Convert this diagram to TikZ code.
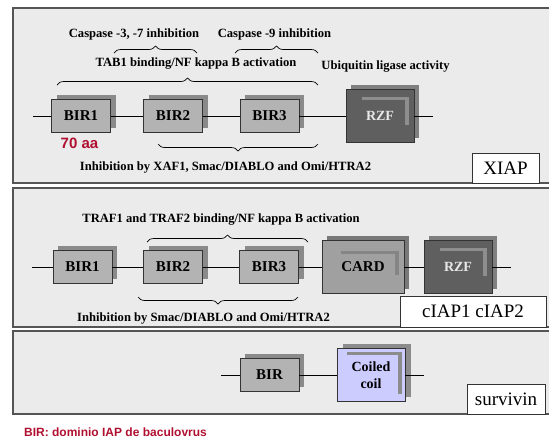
\documentclass[tikz,border=0pt]{standalone}
\usepackage{fontspec}
\setmainfont{Liberation Serif}
\newfontfamily\arialfont{Liberation Sans}
\usetikzlibrary{positioning,shadows,decorations.pathreplacing}
\definecolor{panelfill}{HTML}{EBEBEB}
\definecolor{panelline}{HTML}{555555}
\definecolor{boxline}{HTML}{333333}
\definecolor{birfill}{HTML}{B3B3B3}
\definecolor{birshadow}{HTML}{8A8A8A}
\definecolor{rzffill}{HTML}{5F5F5F}
\definecolor{rzfshadow}{HTML}{7F7F7F}
\definecolor{rzfmark}{HTML}{8E8E8E}
\definecolor{rzftext}{HTML}{E8E8E8}
\definecolor{cardfill}{HTML}{A0A0A0}
\definecolor{cardshadow}{HTML}{787878}
\definecolor{cardmark}{HTML}{858585}
\definecolor{coilfill}{HTML}{CCCCFF}
\definecolor{coilshadow}{HTML}{8C8C8C}
\definecolor{coilmark}{HTML}{8C8C8C}
\definecolor{aared}{HTML}{B01030}

\begin{document}
\begin{tikzpicture}[x=1pt,y=-1pt,
	lmark/.style n args={5}{path picture={\draw[line width=3.5pt,draw=#1] ([xshift=#2,yshift=-#3]path picture bounding box.north west) -| ([xshift=-#4,yshift=#5]path picture bounding box.south east);}}]
			\tikzstyle{panel}=[draw=panelline,fill=panelfill,line width=1.2pt]
			\tikzstyle{dombox}=[draw=boxline,line width=0.8pt,inner sep=0pt,font=\fontsize{15}{17}\selectfont\bfseries]
			\tikzstyle{bir}=[dombox,fill=birfill,minimum width=59pt,minimum height=33pt,general shadow={fill=birshadow,shadow xshift=5pt,shadow yshift=5pt}]
			\tikzstyle{rzf}=[dombox,fill=rzffill,text=rzftext,minimum width=68pt,minimum height=53pt,font=\fontsize{14}{16}\selectfont\bfseries,general shadow={fill=rzfshadow,shadow xshift=5pt,shadow yshift=5pt},lmark={rzfmark}{16pt}{9pt}{7pt}{18pt}]
			\tikzstyle{card}=[dombox,fill=cardfill,minimum width=82pt,minimum height=53pt,general shadow={fill=cardshadow,shadow xshift=5pt,shadow yshift=5pt},lmark={cardmark}{19pt}{12pt}{7pt}{19pt}]
			\tikzstyle{coil}=[dombox,fill=coilfill,minimum width=68pt,minimum height=53pt,align=center,font=\fontsize{14}{17}\selectfont\bfseries,general shadow={fill=coilshadow,shadow xshift=6pt,shadow yshift=5pt},lmark={coilmark}{10pt}{5pt}{5pt}{8pt}]
			\tikzstyle{backbone}=[draw=black,line width=0.8pt]
			\tikzstyle{lbltext}=[font=\fontsize{12.6}{14}\selectfont\bfseries]
			\tikzstyle{namebox}=[draw=boxline,fill=white,line width=0.8pt,inner sep=0pt,font=\fontsize{19}{21}\selectfont]
			\tikzstyle{brace}=[decorate,decoration={brace,amplitude=7pt},line width=0.7pt]
			\tikzstyle{note}=[text=aared]
			\useasboundingbox (0,0) rectangle (549,440);
			\draw[panel] (13,8) rectangle (552,183);
			\draw[panel] (13,188) rectangle (552,327);
			\draw[panel] (13,331) rectangle (552,414);
			\node[bir]      (bir1)     at (81,116)                      {BIR1};
			\node[bir]      (bir2)[right of=bir1,node distance=92pt]    {BIR2};
			\node[bir]      (bir3)[right of=bir2,node distance=96.5pt]  {BIR3};
			\node[rzf]      (rzf1)[right of=bir3,node distance=110.5pt] {RZF};
			\coordinate     (s1) at (33,116);
			\coordinate     (e1) at (433,116);
			\node[bir]      (bir1b)    at (82.5,267)                    {BIR1};
			\node[bir]      (bir2b)[right of=bir1b,node distance=90.5pt] {BIR2};
			\node[bir]      (bir3b)[right of=bir2b,node distance=96pt]   {BIR3};
			\node[card]     (card)[right of=bir3b,node distance=94pt]    {CARD};
			\node[rzf]      (rzf2)[right of=card,node distance=95pt]     {RZF};
			\coordinate     (s2) at (32,267);
			\coordinate     (e2) at (511,267);
			\node[bir]      (birc)     at (269.5,375)                   {BIR};
			\node[coil]     (coil)[right of=birc,node distance=101.5pt]  {Coiled\\coil};
			\coordinate     (s3) at (221,375);
			\coordinate     (e3) at (424,375);
			\path[backbone]
			(s1) edge (bir1)
			(bir1) edge (bir2)
			(bir2) edge (bir3)
			(bir3) edge (rzf1)
			(rzf1) edge (e1)
			(s2) edge (bir1b)
			(bir1b) edge (bir2b)
			(bir2b) edge (bir3b)
			(bir3b) edge (card)
			(card) edge (rzf2)
			(rzf2) edge (e2)
			(s3) edge (birc)
			(birc) edge (coil)
			(coil) edge (e3);
			\node[lbltext]  (cas37)    at (134,34)    {Caspase -3, -7 inhibition};
			\node[lbltext]  (cas9)     at (274.5,34)  {Caspase -9 inhibition};
			\node[lbltext]  (tab1)     at (196,64)    {TAB1 binding/NF kappa B activation};
			\node[lbltext]  (ubiq)     at (385.5,67)  {Ubiquitin ligase activity};
			\node[lbltext]  (inhib1)   at (225.5,167) {Inhibition by XAF1, Smac/DIABLO and Omi/HTRA2};
			\node[lbltext]  (traf)     at (221,220)   {TRAF1 and TRAF2 binding/NF kappa B activation};
			\node[lbltext]  (inhib2)   at (203.5,318) {Inhibition by Smac/DIABLO and Omi/HTRA2};
			\node[note,font=\arialfont\bfseries\fontsize{15}{17}\selectfont] (aa) at (79.5,143) {70 aa};
			\node[note,font=\arialfont\bfseries\fontsize{12}{14}\selectfont] (legend) at (115.5,432) {BIR: dominio IAP de baculovrus};
			\node[namebox,minimum width=67pt,minimum height=30pt]  (xiap)     at (505.5,168) {XIAP};
			\node[namebox,minimum width=146pt,minimum height=31pt] (ciap)     at (473,311.5) {cIAP1 cIAP2};
			\node[namebox,minimum width=78pt,minimum height=30pt]  (survivin) at (506,399)   {survivin};
			\draw[brace] (114,53) -- (197,53);
			\draw[brace] (235,53) -- (318,53);
			\draw[brace] (57,85) -- (318,85);
			\draw[brace] (318,144) -- (158,144);
			\draw[brace] (147,242) -- (308,242);
			\draw[brace] (298,297) -- (138,297);
		\end{tikzpicture}
\end{document}
